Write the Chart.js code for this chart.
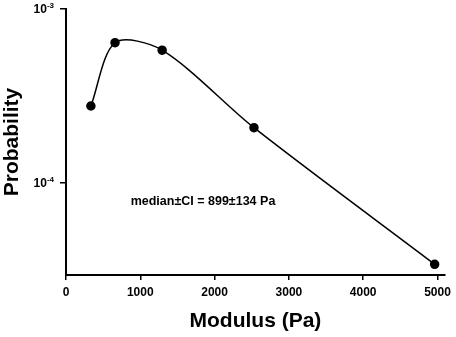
<!DOCTYPE html>
<html>
<head>
<meta charset="utf-8">
<script src="https://cdn.jsdelivr.net/npm/chart.js@4/dist/chart.umd.min.js"></script>
<style>
  body { margin: 0; background: #fff; }
  canvas { display: block; }
</style>
</head>
<body>
<canvas id="chart" width="456" height="337"></canvas>
<script>
const modulus = [335, 660, 1294, 2530, 4962];
const probability = [2.77e-4, 6.4e-4, 5.8e-4, 2.08e-4, 3.41e-5];
const xTicks = [0, 1000, 2000, 3000, 4000, 5000];
const yTicks = [1e-4, 1e-3];
const yTickExp = ['-4', '-3'];
const note = 'median\u00b1CI = 899\u00b1134 Pa';

const FONT = 'Liberation Sans, Arial, sans-serif';

// draws 10^n labels and the median note
const extras = {
  id: 'extras',
  afterDraw(chart) {
    const ctx = chart.ctx;
    const y = chart.scales.y;
    const x = chart.scales.x;
    ctx.save();
    ctx.fillStyle = '#000';
    yTicks.forEach((v, i) => {
      const py = y.getPixelForValue(v);
      ctx.font = 'bold 8px ' + FONT;
      ctx.textAlign = 'right';
      ctx.textBaseline = 'alphabetic';
      const ew = ctx.measureText(yTickExp[i]).width;
      const right = x.left - 12;
      ctx.fillText(yTickExp[i], right, py - 1);
      ctx.font = 'bold 12px ' + FONT;
      ctx.fillText('10', right - ew, py + 4);
    });
    ctx.font = 'bold 12.5px ' + FONT;
    ctx.textAlign = 'left';
    ctx.textBaseline = 'middle';
    ctx.fillText(note, x.getPixelForValue(870), y.getPixelForValue(7.8e-5));
    ctx.restore();
  }
};

new Chart(document.getElementById('chart'), {
  type: 'line',
  data: {
    datasets: [{
      data: modulus.map((m, i) => ({ x: m, y: probability[i] })),
      borderColor: '#000',
      backgroundColor: '#000',
      borderWidth: 1.5,
      pointRadius: 4,
      pointBackgroundColor: '#000',
      tension: 0.3,
      fill: false
    }]
  },
  options: {
    responsive: false,
    animation: false,
    layout: { padding: { top: 9, right: 9, left: 0, bottom: 0 } },
    plugins: { legend: { display: false }, tooltip: { enabled: false } },
    scales: {
      x: {
        type: 'linear',
        min: 0,
        max: 5100,
        afterBuildTicks: s => { s.ticks = xTicks.map(v => ({ value: v })); },
        afterFit: s => { s.height = 62; },
        grid: { drawOnChartArea: false, drawTicks: true, tickLength: 5, color: '#000', lineWidth: 1.5 },
        border: { display: true, color: '#000', width: 2 },
        ticks: { callback: v => String(v), color: '#000', font: { family: FONT, size: 12, weight: 'bold' }, padding: 5, maxRotation: 0 },
        title: { display: true, text: 'Modulus (Pa)', color: '#000', font: { family: FONT, size: 21, weight: 'bold' }, padding: { top: 0, bottom: 3 } }
      },
      y: {
        type: 'logarithmic',
        min: 2.96e-5,
        max: 1e-3,
        afterBuildTicks: s => { s.ticks = yTicks.map(v => ({ value: v })); },
        afterFit: s => { s.width = 66; },
        grid: { drawOnChartArea: false, drawTicks: true, tickLength: 6, color: '#000', lineWidth: 1.5 },
        border: { display: true, color: '#000', width: 2 },
        ticks: { callback: () => '', padding: 0 },
        title: { display: true, text: 'Probability', color: '#000', font: { family: FONT, size: 21, weight: 'bold' }, padding: { top: 0, bottom: 0 } }
      }
    }
  },
  plugins: [extras]
});
</script>
</body>
</html>
